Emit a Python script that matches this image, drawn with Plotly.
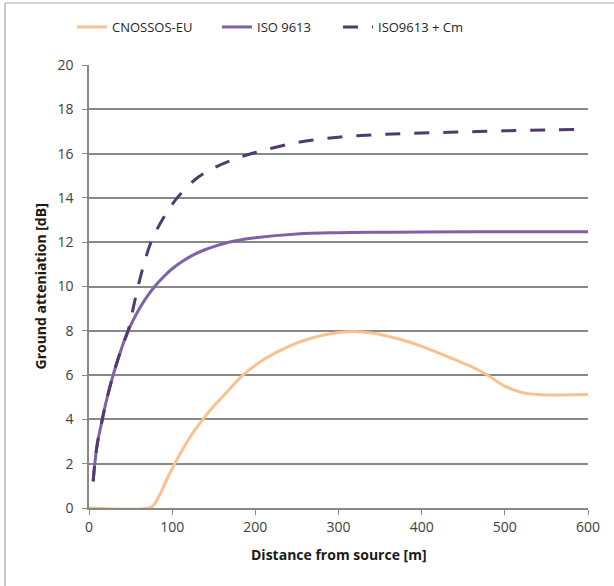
import plotly.graph_objects as go

# ---- data ----
cnossos_x = [0, 72, 78, 85, 95, 103, 115, 125, 137, 150, 165, 185, 210, 240, 270, 300, 320, 340, 360, 380, 400, 420, 440, 460, 480, 500, 520, 540, 560, 600]
cnossos_y = [0, 0, 0.15, 0.6, 1.4, 2.0, 2.8, 3.4, 4.0, 4.6, 5.2, 6.0, 6.7, 7.3, 7.7, 7.92, 7.97, 7.9, 7.75, 7.55, 7.3, 7.0, 6.7, 6.38, 5.98, 5.5, 5.22, 5.12, 5.1, 5.12]

iso_x = [5, 7, 10, 16, 20, 29, 40, 47, 60, 70, 79, 90, 100, 112, 125, 140, 150, 175, 200, 250, 300, 350, 400, 500, 600]
iso_y = [1.2, 2.0, 2.9, 4.0, 4.7, 6.0, 7.3, 8.0, 8.96, 9.55, 10.0, 10.45, 10.8, 11.13, 11.42, 11.67, 11.8, 12.05, 12.2, 12.37, 12.43, 12.45, 12.46, 12.47, 12.47]

isocm_x = [5, 7, 10, 16, 20, 29, 40, 47, 53, 59, 66, 74.5, 88, 106, 130, 150, 175, 200, 250, 300, 350, 400, 450, 500, 550, 600]
isocm_y = [1.2, 2.0, 2.9, 4.0, 4.7, 6.0, 7.3, 8.0, 9.0, 10.0, 11.0, 12.0, 13.0, 14.0, 14.9, 15.35, 15.75, 16.05, 16.5, 16.74, 16.86, 16.93, 16.98, 17.03, 17.07, 17.1]

x_ticks = [0, 100, 200, 300, 400, 500, 600]
y_ticks = [0, 2, 4, 6, 8, 10, 12, 14, 16, 18, 20]

FONT = "Open Sans"
GRID = "#888888"

L, R, T, B = 89, 26, 65, 78
W, H = 614, 586
pw, ph = W - L - R, H - T - B


def px_x(p):
    return (p - L) / pw


def px_y(p):
    return (H - B - p) / ph


fig = go.Figure()
fig.add_trace(go.Scatter(x=cnossos_x, y=cnossos_y, mode="lines", name="CNOSSOS-EU", legend="legend",
                         line=dict(color="#FAC08F", width=3, shape="spline", smoothing=1.0)))
fig.add_trace(go.Scatter(x=iso_x, y=iso_y, mode="lines", name="ISO 9613", legend="legend2",
                         line=dict(color="#7E62A6", width=3, shape="spline", smoothing=1.0)))
fig.add_trace(go.Scatter(x=isocm_x, y=isocm_y, mode="lines", name="ISO9613 + Cm", legend="legend3",
                         line=dict(color="#4F3A73", width=3, dash="15px,14px", shape="spline", smoothing=1.0)))


def leg(xpix):
    return dict(orientation="h", x=px_x(xpix), xanchor="left", y=px_y(27), yanchor="middle",
                font=dict(family=FONT, size=13, color="#262626"),
                bgcolor="rgba(0,0,0,0)", itemwidth=30)


fig.update_layout(
    width=W, height=H,
    margin=dict(l=L, r=R, t=T, b=B),
    paper_bgcolor="white", plot_bgcolor="white",
    font=dict(family=FONT, size=13, color="#404040"),
    showlegend=True,
    legend=leg(72), legend2=leg(217), legend3=leg(338),
    xaxis=dict(range=[0, 600], tickvals=x_ticks, ticktext=[str(v) for v in x_ticks],
               showgrid=False, zeroline=False, showline=True, linecolor=GRID, linewidth=1.5,
               ticks="outside", ticklen=5, tickcolor=GRID, tickwidth=1.3,
               tickfont=dict(family=FONT, size=14, color="#404040"), ticklabelstandoff=0,
               fixedrange=True),
    yaxis=dict(range=[0, 20], tickvals=y_ticks, ticktext=[str(v) for v in y_ticks],
               showgrid=True, gridcolor=GRID, gridwidth=1.5, zeroline=False,
               showline=True, linecolor=GRID, linewidth=1.5,
               ticks="outside", ticklen=5, tickcolor=GRID, tickwidth=1.3,
               tickfont=dict(family=FONT, size=14, color="#404040"), ticklabelstandoff=6,
               fixedrange=True),
    annotations=[
        dict(text="<b>Distance from source [m]</b>", xref="paper", yref="paper",
             x=0.5, y=px_y(554), xanchor="center", yanchor="middle", showarrow=False,
             font=dict(family=FONT, size=14, color="#1a1a1a")),
        dict(text="<b>Ground atteniation [dB]</b>", xref="paper", yref="paper",
             x=px_x(40), y=0.5, xanchor="center", yanchor="middle", showarrow=False,
             textangle=-90, font=dict(family=FONT, size=14, color="#1a1a1a")),
    ],
    shapes=[
        dict(type="line", xref="paper", yref="paper", x0=px_x(5), x1=px_x(5),
             y0=px_y(3), y1=px_y(600), line=dict(color="#A6A6A6", width=1.2)),
        dict(type="line", xref="paper", yref="paper", x0=px_x(5), x1=px_x(620),
             y0=px_y(3), y1=px_y(3), line=dict(color="#A6A6A6", width=1.2)),
    ],
)

fig.write_html("out.html", config={"displayModeBar": False},
               post_script="document.body.style.margin='0px';document.body.style.overflow='hidden';")
